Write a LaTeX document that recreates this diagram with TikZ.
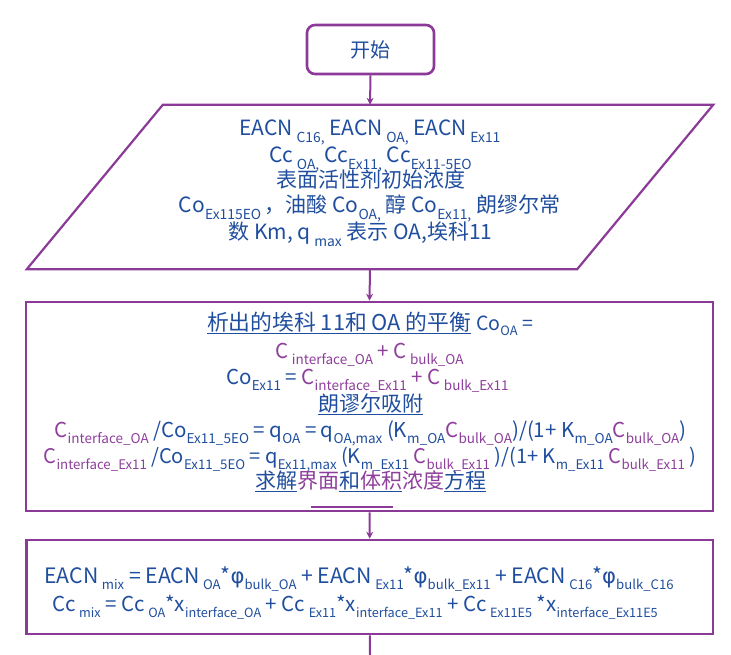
\documentclass[tikz,border=0pt]{standalone}
\usepackage{fontspec}
\setmainfont{Noto Sans CJK SC}
\newfontfamily\phf{DejaVu Sans}
\usepackage{graphicx}
\usetikzlibrary{arrows.meta}
\definecolor{pbord}{RGB}{140,58,152}
\definecolor{tblue}{RGB}{32,78,158}
\definecolor{tpurp}{RGB}{142,62,155}
\def\subsc{0.66}
\newcommand\lo[1]{\raisebox{-0.3em}{\scalebox{\subsc}{#1}}}
\newcommand\ph{{\phf φ}}
\newcommand\bl{\color{tblue}}
\newcommand\pp{\color{tpurp}}
\begin{document}
\begin{tikzpicture}[x=1pt,y=-1pt,
  bord/.style={draw=pbord,line width=2.6pt},
  conn/.style={draw=pbord,line width=2pt},
  tip/.style={-{Stealth[length=7pt,width=7pt]}},
  txt/.style={anchor=base,inner sep=0pt,text=tblue},
  fA/.style={font=\fontsize{21}{25}\selectfont},
  fB/.style={font=\fontsize{20.5}{24}\selectfont},
  fC/.style={font=\fontsize{21}{25}\selectfont}]
\useasboundingbox (0,0) rectangle (731,655);
% start
\node[bord,rounded corners=8pt,minimum width=127pt,minimum height=49pt,text=tblue,font=\fontsize{20}{24}\selectfont] (start) at (370.5,49.5) {开始};
% parallelogram
\node[minimum width=686pt,minimum height=164pt,inner sep=0pt] (para) at (370,187) {};
\draw[bord,line width=2.2pt,line join=miter] ([xshift=136pt]para.north west) -- (para.north east) -- ([xshift=-136pt]para.south east) -- (para.south west) -- cycle;
\node[txt,fA] (p1) at (370,136) {EACN\,\lo{C16,} EACN\,\lo{OA,} EACN\,\lo{Ex11}};
\node[txt,fA] (p2) at (370.5,163) {Cc\,\lo{OA,} Cc\lo{Ex11,} Cc\lo{Ex11-5EO}};
\node[txt,fA] (p3) at (371,188) {表面活性剂初始浓度};
\node[txt,fA] (p4) at (369.5,213) {Co\lo{Ex115EO}\,，油酸 Co\lo{OA,} 醇 Co\lo{Ex11,} 朗缪尔常};
\node[txt,fA] (p5) at (360.5,240) {数 Km, q\,\lo{max} 表示 OA,埃科11};
% box 2
\node[bord,minimum width=687pt,minimum height=209pt] (box2) at (369.5,406.5) {};
\node[txt,font=\fontsize{21.8}{25}\selectfont] (b1) at (370,330) {\underline{析出的埃科 11和 OA 的平衡} {\fontsize{19.5}{22}\selectfont Co\lo{OA} =}};
\node[txt,fB] (b2) at (369.5,358) {\pp C\,\lo{interface\_OA} + C\,\lo{bulk\_OA}};
\node[txt,fB] (b3) at (367.5,384) {Co\lo{Ex11} = \pp C\lo{interface\_Ex11} + C\,\lo{bulk\_Ex11}};
\node[txt,fC] (b4) at (370.5,411) {\underline{朗谬尔吸附}};
\node[txt,fB] (b5) at (370.5,437) {{\pp C\lo{interface\_OA}} /Co\lo{Ex11\_5EO} = q\lo{OA} = q\lo{OA,max} (K\lo{m\_OA}{\pp C\lo{bulk\_OA}})/(1+ K\lo{m\_OA}{\pp C\lo{bulk\_OA}})};
\node[txt,font=\fontsize{20.1}{24}\selectfont] (b6) at (370,463) {{\pp C\lo{interface\_Ex11}} /Co\lo{Ex11\_5EO} = q\lo{Ex11,max} (K\lo{m\_Ex11} {\pp C\lo{bulk\_Ex11}} )/(1+ K\lo{m\_Ex11} {\pp C\lo{bulk\_Ex11}} )};
\node[txt,fC] (b7) at (370.5,488) {\underline{求解}{\pp 界面}\underline{和{\pp 体积}}{\pp 浓度}\underline{方程}};
\coordinate (sl1) at (311,507);
\coordinate (sl2) at (393,507);
\draw[draw=pbord,line width=1.5pt] (sl1) -- (sl2);
% box 3
\node[bord,minimum width=686.5pt,minimum height=94pt] (box3) at (369.75,587) {};
\node[txt,font=\fontsize{21.2}{25}\selectfont\def\subsc{0.62}] (c1) at (359,583) {EACN\,\lo{mix} = EACN\,\lo{OA}*\ph\lo{bulk\_OA} + EACN\,\lo{Ex11}*\ph\lo{bulk\_Ex11} + EACN\,\lo{C16}*\ph\lo{bulk\_C16}};
\node[txt,font=\fontsize{20.5}{25}\selectfont\def\subsc{0.62}] (c2) at (355,611) {Cc\,\lo{mix} = Cc\,\lo{OA}*x\lo{interface\_OA} + Cc\,\lo{Ex11}*x\lo{interface\_Ex11} + Cc\,\lo{Ex11E5} *x\lo{interface\_Ex11E5}};
\coordinate (endc) at (370,655);
% connectors
\draw[conn,tip] (start.south) -- (para.north);
\draw[conn,tip] (para.south) -- (box2.north);
\draw[conn,tip] (box2.south) -- (box3.north);
\draw[conn] (box3.south) -- (endc);
\end{tikzpicture}
\end{document}
